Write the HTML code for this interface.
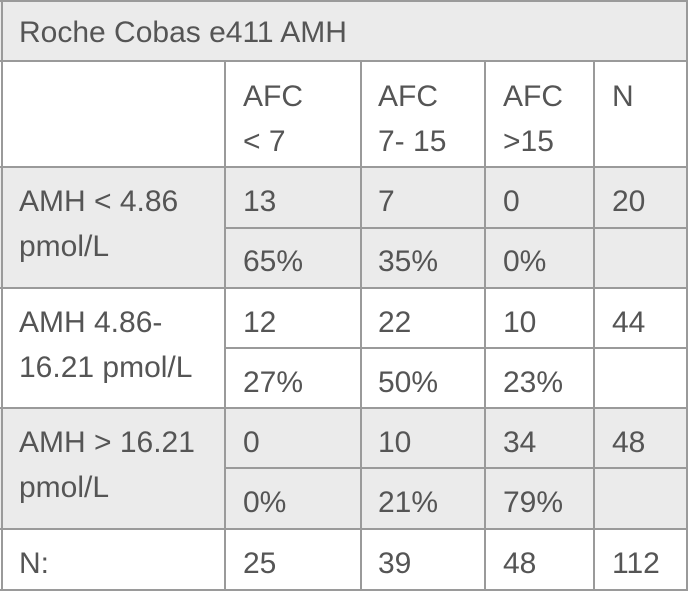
<!DOCTYPE html>
<html><head><meta charset="utf-8"><style>
body{margin:0;width:688px;height:591px;background:#fff;position:relative;overflow:hidden;font-family:"Liberation Sans","DejaVu Sans",sans-serif;color:#555;}
.bg{position:absolute;background:#ebebeb}
.h{position:absolute;height:2px;background:#9a9a9a}
.v{position:absolute;width:2px;background:#9a9a9a}
.t{position:absolute;font-size:30px;line-height:45px;white-space:nowrap}
</style></head><body>
<div class="bg" style="left:0;top:0;width:688px;height:61px"></div>
<div class="bg" style="left:0;top:167px;width:688px;height:121px"></div>
<div class="bg" style="left:0;top:408px;width:688px;height:121px"></div>

<div class="h" style="left:0;top:0;width:688px"></div>
<div class="h" style="left:0;top:60px;width:688px"></div>
<div class="h" style="left:0;top:166px;width:688px"></div>
<div class="h" style="left:225px;top:227px;width:463px"></div>
<div class="h" style="left:0;top:287px;width:688px"></div>
<div class="h" style="left:225px;top:347px;width:463px"></div>
<div class="h" style="left:0;top:407px;width:688px"></div>
<div class="h" style="left:225px;top:467px;width:463px"></div>
<div class="h" style="left:0;top:528px;width:688px"></div>
<div class="h" style="left:0;top:589px;width:688px"></div>

<div class="v" style="left:1px;top:0;height:591px"></div>
<div class="v" style="left:686px;top:0;height:591px"></div>
<div class="v" style="left:224px;top:60px;height:531px"></div>
<div class="v" style="left:360px;top:60px;height:531px"></div>
<div class="v" style="left:484px;top:60px;height:531px"></div>
<div class="v" style="left:593px;top:60px;height:531px"></div>

<div class="t" style="left:19px;top:10px">Roche Cobas e411 AMH</div>

<div class="t" style="left:243px;top:74px">AFC<br>&lt; 7</div>
<div class="t" style="left:378px;top:74px">AFC<br>7- 15</div>
<div class="t" style="left:503px;top:74px">AFC<br>&gt;15</div>
<div class="t" style="left:612px;top:74px">N</div>

<div class="t" style="left:19px;top:179px">AMH &lt; 4.86<br>pmol/L</div>
<div class="t" style="left:243px;top:179px">13</div>
<div class="t" style="left:378px;top:179px">7</div>
<div class="t" style="left:503px;top:179px">0</div>
<div class="t" style="left:612px;top:179px">20</div>
<div class="t" style="left:243px;top:239px">65%</div>
<div class="t" style="left:378px;top:239px">35%</div>
<div class="t" style="left:503px;top:239px">0%</div>

<div class="t" style="left:19px;top:300px">AMH 4.86-<br>16.21 pmol/L</div>
<div class="t" style="left:243px;top:300px">12</div>
<div class="t" style="left:378px;top:300px">22</div>
<div class="t" style="left:503px;top:300px">10</div>
<div class="t" style="left:612px;top:300px">44</div>
<div class="t" style="left:243px;top:360px">27%</div>
<div class="t" style="left:378px;top:360px">50%</div>
<div class="t" style="left:503px;top:360px">23%</div>

<div class="t" style="left:19px;top:420px">AMH &gt; 16.21<br>pmol/L</div>
<div class="t" style="left:243px;top:420px">0</div>
<div class="t" style="left:378px;top:420px">10</div>
<div class="t" style="left:503px;top:420px">34</div>
<div class="t" style="left:612px;top:420px">48</div>
<div class="t" style="left:243px;top:480px">0%</div>
<div class="t" style="left:378px;top:480px">21%</div>
<div class="t" style="left:503px;top:480px">79%</div>

<div class="t" style="left:19px;top:541px">N:</div>
<div class="t" style="left:243px;top:541px">25</div>
<div class="t" style="left:378px;top:541px">39</div>
<div class="t" style="left:503px;top:541px">48</div>
<div class="t" style="left:612px;top:541px">112</div>
</body></html>
